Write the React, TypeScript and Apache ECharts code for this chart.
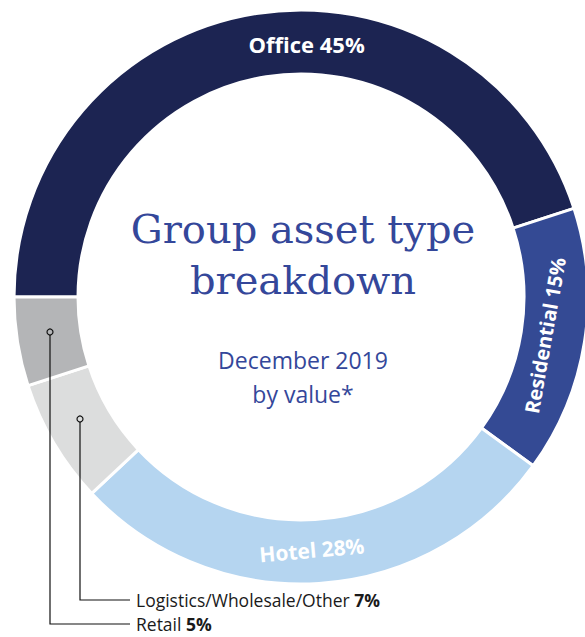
import React, { useEffect, useRef } from "react";
import * as echarts from "echarts";

const categories = ["Office", "Residential", "Hotel", "Logistics/Wholesale/Other", "Retail"];
const shares = [45, 15, 28, 7, 5];
const colors = ["#1c2452", "#344a94", "#b5d5f0", "#dcdddd", "#b4b5b7"];
const titleLines = ["Group asset type", "breakdown"];
const subtitleLines = ["December 2019", "by value*"];

export default function App() {
  const ref = useRef<HTMLDivElement>(null);
  useEffect(() => {
    if (!ref.current) return;
    const chart = echarts.init(ref.current, undefined, { renderer: "svg" });
    const labelFont = "'Open Sans', 'Noto Sans', sans-serif";
    const cx = 301;
    const cy = 297;
    const labelCfg: any[] = [
      { show: true, rotate: 0, offset: [46, 2], fontSize: 22 },
      { show: true, rotate: 80, offset: [0, -11], fontSize: 20 },
      { show: true, rotate: 5, offset: [-5, -5], fontSize: 21 },
      { show: false },
      { show: false },
    ];
    const data = categories.map((name, i) => ({
      name,
      value: shares[i],
      itemStyle: { color: colors[i] },
      label: {
        position: "inside",
        formatter: `${name} ${shares[i]}%`,
        color: "#ffffff",
        fontWeight: "bold",
        fontFamily: labelFont,
        ...labelCfg[i],
      },
    }));
    const leaderColor = "#111";
    const bottomRich = {
      n: { fontFamily: labelFont, fontSize: 17.5, lineHeight: 18, fill: "#1a1a1a" },
      b: { fontFamily: labelFont, fontSize: 17.5, lineHeight: 18, fontWeight: "bold", fill: "#1a1a1a" },
    };
    chart.setOption({
      animation: false,
      backgroundColor: "#ffffff",
      series: [
        {
          type: "pie",
          center: [cx, cy],
          radius: [223, 287],
          startAngle: 180,
          clockwise: true,
          silent: true,
          labelLine: { show: false },
          itemStyle: { borderColor: "#ffffff", borderWidth: 3 },
          data,
        },
      ],
      graphic: [
        {
          type: "text",
          z: 10,
          x: 303,
          y: 229,
          style: {
            text: titleLines[0],
            fontFamily: "'DejaVu Serif', serif",
            fontSize: 40,
            fill: "#34479a",
            textAlign: "center",
            textVerticalAlign: "middle",
          },
        },
        {
          type: "text",
          z: 10,
          x: 303,
          y: 280,
          style: {
            text: titleLines[1],
            fontFamily: "'DejaVu Serif', serif",
            fontSize: 40,
            fill: "#34479a",
            textAlign: "center",
            textVerticalAlign: "middle",
          },
        },
        {
          type: "text",
          z: 10,
          x: 303,
          y: 360,
          style: {
            text: subtitleLines[0],
            fontFamily: labelFont,
            fontSize: 23,
            fill: "#34479a",
            textAlign: "center",
            textVerticalAlign: "middle",
          },
        },
        {
          type: "text",
          z: 10,
          x: 303,
          y: 394,
          style: {
            text: subtitleLines[1],
            fontFamily: labelFont,
            fontSize: 23,
            fill: "#34479a",
            textAlign: "center",
            textVerticalAlign: "middle",
          },
        },
        {
          type: "polyline",
          z: 10,
          shape: { points: [[50, 335], [50, 624], [130, 624]] },
          style: { stroke: leaderColor, lineWidth: 1.2, fill: "none" },
        },
        {
          type: "polyline",
          z: 10,
          shape: { points: [[80, 422], [80, 600], [130, 600]] },
          style: { stroke: leaderColor, lineWidth: 1.2, fill: "none" },
        },
        {
          type: "circle",
          z: 10,
          shape: { cx: 50, cy: 332, r: 3 },
          style: { stroke: leaderColor, lineWidth: 1.2, fill: "none" },
        },
        {
          type: "circle",
          z: 10,
          shape: { cx: 80, cy: 419, r: 3 },
          style: { stroke: leaderColor, lineWidth: 1.2, fill: "none" },
        },
        {
          type: "text",
          z: 10,
          x: 136,
          y: 600,
          style: {
            rich: bottomRich,
            text: `{n|${categories[3]} }{b|${shares[3]}%}`,
            textVerticalAlign: "middle",
          },
        },
        {
          type: "text",
          z: 10,
          x: 136,
          y: 624,
          style: {
            rich: bottomRich,
            text: `{n|${categories[4]} }{b|${shares[4]}%}`,
            textVerticalAlign: "middle",
          },
        },
      ],
    });
    return () => chart.dispose();
  }, []);
  return (
    <div
      ref={ref}
      style={{ position: "fixed", left: 0, top: 0, width: 585, height: 637 }}
    />
  );
}
